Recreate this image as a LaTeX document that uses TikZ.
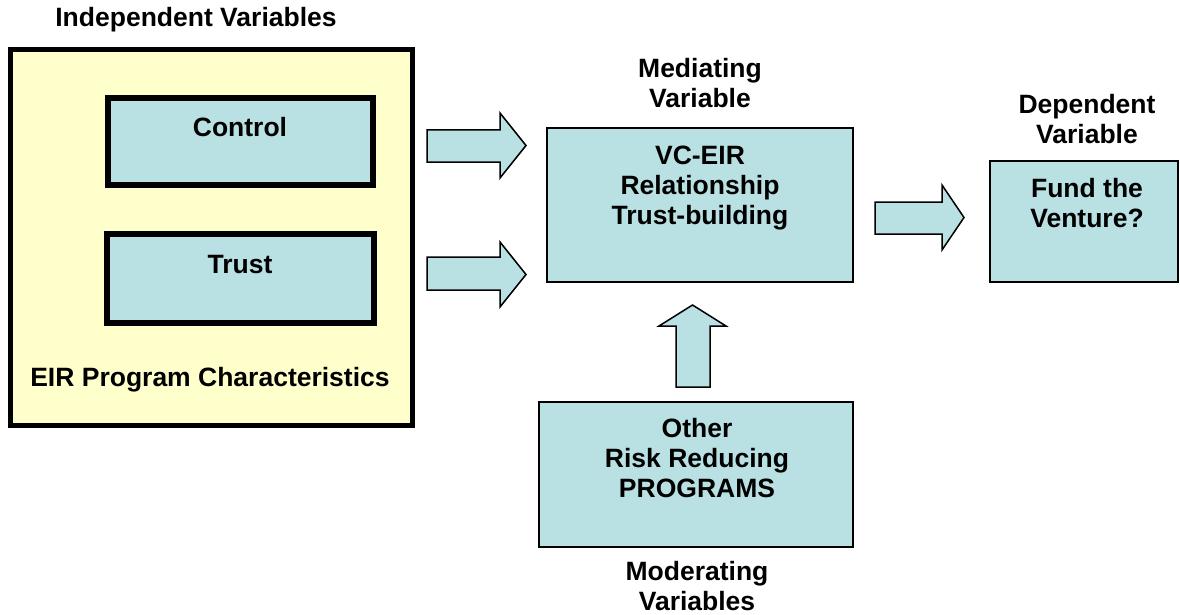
\documentclass[tikz,border=0pt]{standalone}
\usepackage{fontspec}
\setmainfont{Liberation Sans}
\begin{document}
\begin{tikzpicture}[x=1pt,y=-1pt,
  txt/.style={font=\fontsize{26.5}{30}\selectfont\bfseries, align=center, inner sep=0pt},
  boxbase/.style={rectangle, inner sep=0pt, outer sep=0pt},
  tealbox/.style={boxbase, draw=black, fill=teal0, line width=1.5pt},
  thickbox/.style={boxbase, draw=black, fill=teal0, line width=6pt},
  yelbox/.style={boxbase, draw=black, fill=yel0, line width=5pt},
  blockarrow/.style={draw=black, fill=teal0, line width=1.5pt, line join=miter}]
\definecolor{teal0}{RGB}{185,224,226}
\definecolor{yel0}{RGB}{255,255,204}
\useasboundingbox (0,0) rectangle (1180,615);
% left group
\node[yelbox, minimum width=402pt, minimum height=376pt] (outer) at (211.5,237.5) {};
\node[thickbox, minimum width=265pt, minimum height=87pt] (controlbox) at (240.5,141.5) {};
\node[thickbox, minimum width=267pt, minimum height=89pt] (trustbox) at (240.5,278.5) {};
\node[txt] (indep) at (196,20) {Independent Variables};
\node[txt] (control) at (240,127) {Control};
\node[txt] (trust) at (240,265) {Trust};
\node[txt] (eirpc) at (210,380) {EIR Program Characteristics};
% middle
\node[tealbox, minimum width=306pt, minimum height=154pt] (medbox) at (700,205) {};
\node[txt] (medlab) at (700,83) {Mediating\\Variable};
\node[txt] (vceir) at (700,188) {VC-EIR\\Relationship\\Trust-building};
% bottom
\node[tealbox, minimum width=314pt, minimum height=145pt] (modbox) at (696,474.5) {};
\node[txt] (other) at (697,458) {Other\\Risk Reducing\\ PROGRAMS};
\node[txt] (modlab) at (697,586) {Moderating\\Variables};
% right
\node[tealbox, minimum width=188pt, minimum height=121pt] (depbox) at (1084,221.5) {};
\node[txt] (deplab) at (1087,119) {Dependent\\Variable};
\node[txt] (fund) at (1087,203) {Fund the\\Venture?};
% block arrows
\draw[blockarrow] (427,130) -- (500,130) -- (500,113) -- (526,145.5) -- (500,178) -- (500,162) -- (427,162) -- cycle;
\draw[blockarrow] (427,257) -- (500,257) -- (500,242) -- (526,274.5) -- (500,307) -- (500,290) -- (427,290) -- cycle;
\draw[blockarrow] (875,202) -- (942,202) -- (942,185) -- (964,217.5) -- (942,250) -- (942,234) -- (875,234) -- cycle;
\draw[blockarrow] (676,387) -- (676,326) -- (659,326) -- (692.5,305) -- (726,326) -- (710,326) -- (710,387) -- cycle;
\end{tikzpicture}
\end{document}
